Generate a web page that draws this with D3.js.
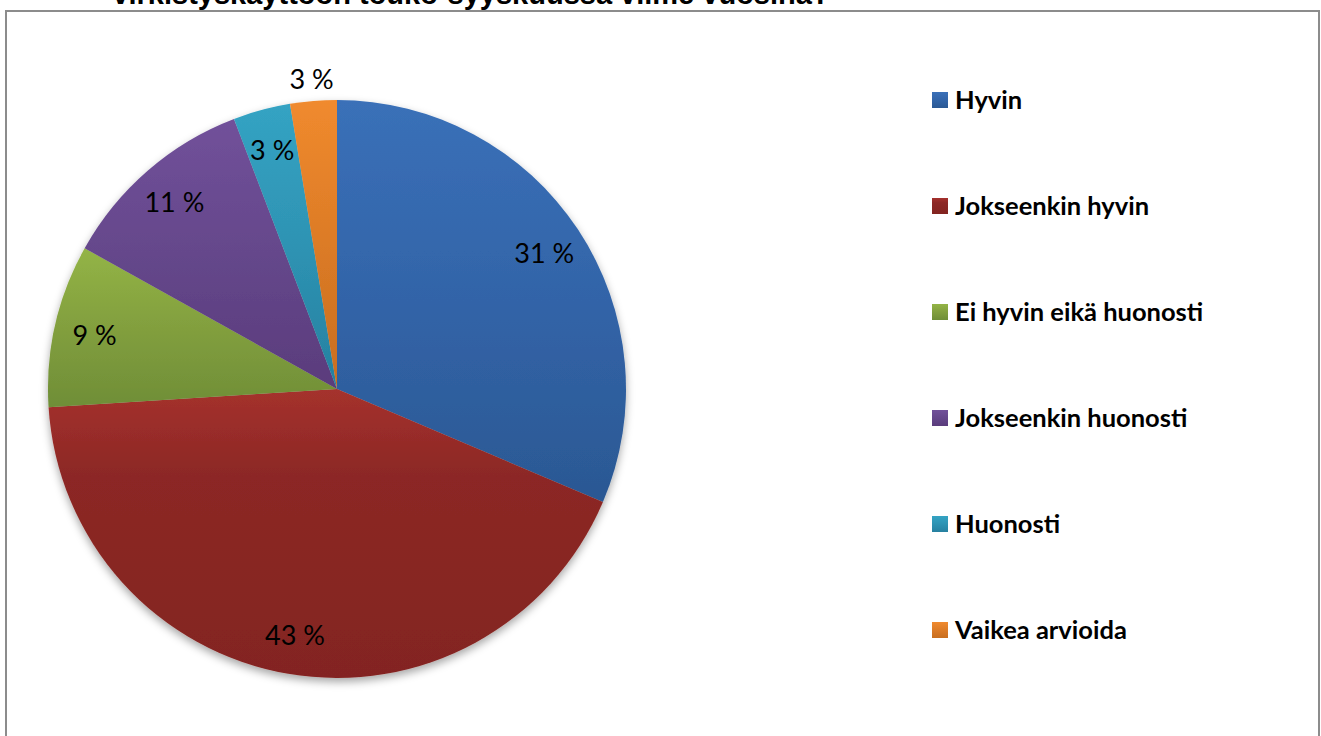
<!DOCTYPE html>
<html>
<head>
<meta charset="utf-8">
<script src="https://cdn.jsdelivr.net/npm/d3@7/dist/d3.min.js"></script>
<style>
  html, body { margin: 0; padding: 0; background: #fff; }
  svg { display: block; }
</style>
</head>
<body>
<svg id="chart" width="1321" height="736"></svg>
<script>
const title = "virkistyskäyttöön touko-syyskuussa viime vuosina?";
const categories = ["Hyvin", "Jokseenkin hyvin", "Ei hyvin eikä huonosti", "Jokseenkin huonosti", "Huonosti", "Vaikea arvioida"];
const values = [31.4, 42.6, 9.1, 11.1, 3.2, 2.6];
const colorsLight = ["#3a70b8", "#a5312d", "#93b446", "#71519a", "#34a3c3", "#f08a2e"];
const colorsMid   = ["#3264a8", "#8c2825", "#829f3e", "#65478b", "#2e93b3", "#dc7b26"];
const colorsDark  = ["#2b5893", "#832420", "#6f8e37", "#5a3c7c", "#2680a0", "#c86e1f"];

const svg = d3.select("#chart");

const defs = svg.append("defs");
const f = defs.append("filter").attr("id", "shadow")
  .attr("x", "-10%").attr("y", "-10%").attr("width", "120%").attr("height", "125%");
f.append("feDropShadow").attr("dx", 0).attr("dy", 4).attr("stdDeviation", 4)
  .attr("flood-color", "#000").attr("flood-opacity", 0.35);

categories.forEach((c, i) => {
  const g = defs.append("linearGradient").attr("id", "grad" + i)
    .attr("x1", 0).attr("y1", 0).attr("x2", 0).attr("y2", 1);
  g.append("stop").attr("offset", "0%").attr("stop-color", colorsLight[i]);
  g.append("stop").attr("offset", i === 1 ? "30%" : "50%").attr("stop-color", colorsMid[i]);
  g.append("stop").attr("offset", "100%").attr("stop-color", colorsDark[i]);
});

// frame
svg.append("rect").attr("x", 6).attr("y", 11).attr("width", 1313).attr("height", 740)
  .attr("fill", "#fff").attr("stroke", "#8c8c8c").attr("stroke-width", 2);

// title (partially cut off at the top, as in the reference)
svg.append("text").attr("x", 471).attr("y", 4)
  .attr("text-anchor", "middle")
  .attr("font-family", "'Liberation Sans', Arial, sans-serif")
  .attr("font-weight", "bold").attr("font-size", 29)
  .attr("fill", "#000").text(title);

const cx = 337, cy = 389, R = 289;
const pie = d3.pie().sort(null).value(d => d)(values);
const arc = d3.arc().innerRadius(0).outerRadius(R);
const labelArcIn = d3.arc().innerRadius(R * 0.86).outerRadius(R * 0.86);
const labelArcOut = d3.arc().innerRadius(R * 1.08).outerRadius(R * 1.08);

const gPie = svg.append("g").attr("transform", `translate(${cx},${cy})`);
const slices = gPie.append("g").attr("filter", "url(#shadow)");
slices.selectAll("path").data(pie).join("path")
  .attr("d", arc)
  .attr("fill", (d, i) => `url(#grad${i})`);

gPie.append("g").selectAll("text").data(pie).join("text")
  .attr("transform", d => {
    const a = (d.endAngle - d.startAngle) < 0.18 && d.index === values.length - 1 ? labelArcOut : labelArcIn;
    const p = a.centroid(d);
    return `translate(${p[0]},${p[1]})`;
  })
  .attr("text-anchor", "middle").attr("dy", "0.42em")
  .attr("font-family", "Lato, 'Open Sans', sans-serif")
  .attr("font-size", 27).attr("fill", "#000")
  .text(d => Math.round(d.data) + " %");

// legend
const legend = svg.append("g").attr("transform", "translate(932,100)");
const lg = legend.selectAll("g").data(categories).join("g")
  .attr("transform", (d, i) => `translate(0,${i * 106})`);
lg.append("rect").attr("x", 0).attr("y", -8).attr("width", 16).attr("height", 16)
  .attr("fill", (d, i) => `url(#grad${i})`);
lg.append("text").attr("x", 23).attr("y", 0).attr("dy", "0.35em")
  .attr("font-family", "Lato, 'Open Sans', sans-serif")
  .attr("font-weight", "bold").attr("font-size", 25.5).attr("fill", "#000")
  .text(d => d);
</script>
</body>
</html>
